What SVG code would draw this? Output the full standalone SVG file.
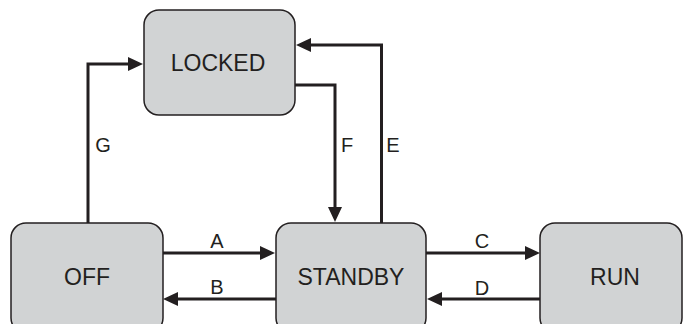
<svg xmlns="http://www.w3.org/2000/svg" width="683" height="324" viewBox="0 0 683 324">
<defs>
<style>
.node rect{fill:#d1d3d4;stroke:#231f20;stroke-width:1.5}
.node text{font-family:"Liberation Sans",Arial,sans-serif;font-size:23px;fill:#231f20;text-anchor:middle}
.conn path{fill:none;stroke:#231f20;stroke-width:3;stroke-linejoin:miter}
.lbl{font-family:"Liberation Sans",Arial,sans-serif;font-size:20px;fill:#231f20;text-anchor:middle}
</style>
<marker id="ah" viewBox="0 0 15 14" refX="11" refY="7" markerWidth="15" markerHeight="14" markerUnits="userSpaceOnUse" orient="auto">
<path d="M0,0 L15,7 L0,14 Z" fill="#231f20"/>
</marker>
</defs>
<rect width="683" height="324" fill="#ffffff"/>
<g class="conn">
<path id="A" d="M163,253 H271" marker-end="url(#ah)"/>
<path id="B" d="M276,299 H167" marker-end="url(#ah)"/>
<path id="C" d="M426,253 H536" marker-end="url(#ah)"/>
<path id="D" d="M540,299 H431" marker-end="url(#ah)"/>
<path id="G" d="M88,223 V64 H139" marker-end="url(#ah)"/>
<path id="F" d="M295,85 H335 V218" marker-end="url(#ah)"/>
<path id="E" d="M381.5,223 V45 H300" marker-end="url(#ah)"/>
<text class="lbl" x="217" y="248">A</text>
<text class="lbl" x="217" y="294">B</text>
<text class="lbl" x="482" y="248">C</text>
<text class="lbl" x="482" y="295">D</text>
<text class="lbl" x="103" y="152">G</text>
<text class="lbl" x="347" y="152">F</text>
<text class="lbl" x="393" y="152">E</text>
</g>
<g id="LOCKED" class="node">
<rect x="144" y="10" width="151" height="105" rx="15"/>
<text x="218" y="71">LOCKED</text>
</g>
<g id="OFF" class="node">
<rect x="11" y="223" width="152" height="110" rx="15"/>
<text x="87" y="285">OFF</text>
</g>
<g id="STANDBY" class="node">
<rect x="276" y="223" width="150" height="110" rx="15"/>
<text x="351" y="285">STANDBY</text>
</g>
<g id="RUN" class="node">
<rect x="540" y="223" width="142" height="110" rx="15"/>
<text x="615" y="285">RUN</text>
</g>
</svg>
